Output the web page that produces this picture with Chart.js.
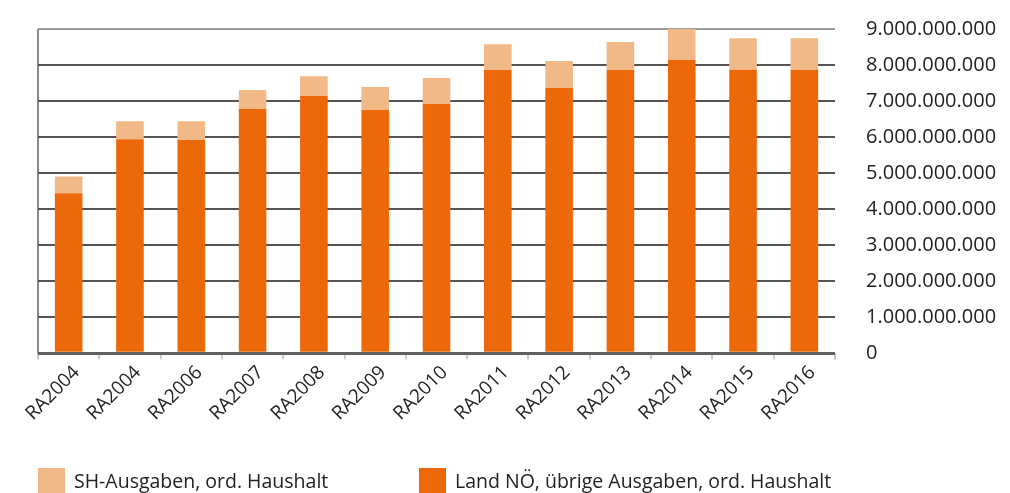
<!DOCTYPE html>
<html>
<head>
<meta charset="utf-8">
<script src="https://cdn.jsdelivr.net/npm/chart.js@4/dist/chart.umd.min.js"></script>
<style>
  html, body { margin: 0; padding: 0; background: #fff; }
  #wrap { position: relative; width: 1010px; height: 493px; }
  #c { position: absolute; left: 0; top: 0; }
  .leg { position: absolute; top: 468px; height: 25px; display: flex; align-items: center;
         font-family: "Open Sans", sans-serif; font-size: 19.5px; color: #222; white-space: nowrap; }
  .sw { width: 27px; height: 25px; margin-right: 9px; }
</style>
</head>
<body>
<div id="wrap">
  <canvas id="c" width="1010" height="493"></canvas>
  <div class="leg" style="left:38px"><div class="sw" id="sw1"></div><span id="lt1"></span></div>
  <div class="leg" style="left:419px"><div class="sw" id="sw2"></div><span id="lt2"></span></div>
</div>
<script>
const categories = ["RA2004","RA2004","RA2006","RA2007","RA2008","RA2009","RA2010","RA2011","RA2012","RA2013","RA2014","RA2015","RA2016"];
const landNoe = [4.44e9, 5.94e9, 5.92e9, 6.78e9, 7.14e9, 6.75e9, 6.92e9, 7.86e9, 7.36e9, 7.86e9, 8.14e9, 7.87e9, 7.86e9];
const shAusgaben = [0.47e9, 0.50e9, 0.52e9, 0.53e9, 0.55e9, 0.64e9, 0.72e9, 0.72e9, 0.75e9, 0.78e9, 0.86e9, 0.87e9, 0.88e9];
const seriesNames = ["Land NÖ, übrige Ausgaben, ord. Haushalt", "SH-Ausgaben, ord. Haushalt"];
const yTickValues = [0, 1e9, 2e9, 3e9, 4e9, 5e9, 6e9, 7e9, 8e9, 9e9];

const colOrange = "#ED6809";
const colLight = "#F0B987";

document.getElementById("sw1").style.background = colLight;
document.getElementById("lt1").textContent = seriesNames[1];
document.getElementById("sw2").style.background = colOrange;
document.getElementById("lt2").textContent = seriesNames[0];

function fmt(v) {
  return String(Math.round(v)).replace(/\B(?=(\d{3})+(?!\d))/g, ".");
}

Chart.defaults.font.family = '"Open Sans", sans-serif';
Chart.defaults.color = "#222";

new Chart(document.getElementById("c"), {
  type: "bar",
  data: {
    labels: categories,
    datasets: [
      { label: seriesNames[0], data: landNoe, backgroundColor: colOrange, borderWidth: 0,
        barPercentage: 0.45, categoryPercentage: 1.0 },
      { label: seriesNames[1], data: shAusgaben, backgroundColor: colLight, borderWidth: 0,
        barPercentage: 0.45, categoryPercentage: 1.0 }
    ]
  },
  options: {
    responsive: false,
    animation: false,
    layout: { padding: { left: 38, right: 0, top: 29, bottom: 66 } },
    plugins: { legend: { display: false }, tooltip: { enabled: false } },
    scales: {
      x: {
        stacked: true,
        border: { display: false },
        grid: {
          offset: true,
          drawOnChartArea: true,
          color: (ctx) => ctx.index === 0 ? "#8a8a8a" : "rgba(0,0,0,0)",
          lineWidth: 2,
          tickColor: "#9a9a9a",
          tickLength: 6,
          tickWidth: 1
        },
        ticks: { minRotation: 45, maxRotation: 45, font: { size: 19 }, color: "#222", padding: 2, labelOffset: 8 }
      },
      y: {
        stacked: true,
        position: "right",
        min: 0, max: 9e9,
        afterBuildTicks: (axis) => { axis.ticks = yTickValues.map(v => ({ value: v })); },
        afterFit: (axis) => { axis.width = 175; axis.paddingTop = 0; axis.paddingBottom = 0; },
        border: { display: false },
        grid: {
          drawTicks: false,
          color: (ctx) => ctx.tick && ctx.tick.value === 9e9 ? "#9c9c9c" : (ctx.tick && ctx.tick.value === 0 ? "#606060" : "#585252"),
          lineWidth: (ctx) => ctx.tick && ctx.tick.value === 0 ? 3 : 2
        },
        ticks: { callback: (v) => fmt(v), font: { size: 20 }, color: "#222", padding: 31 }
      }
    }
  }
});
</script>
</body>
</html>
